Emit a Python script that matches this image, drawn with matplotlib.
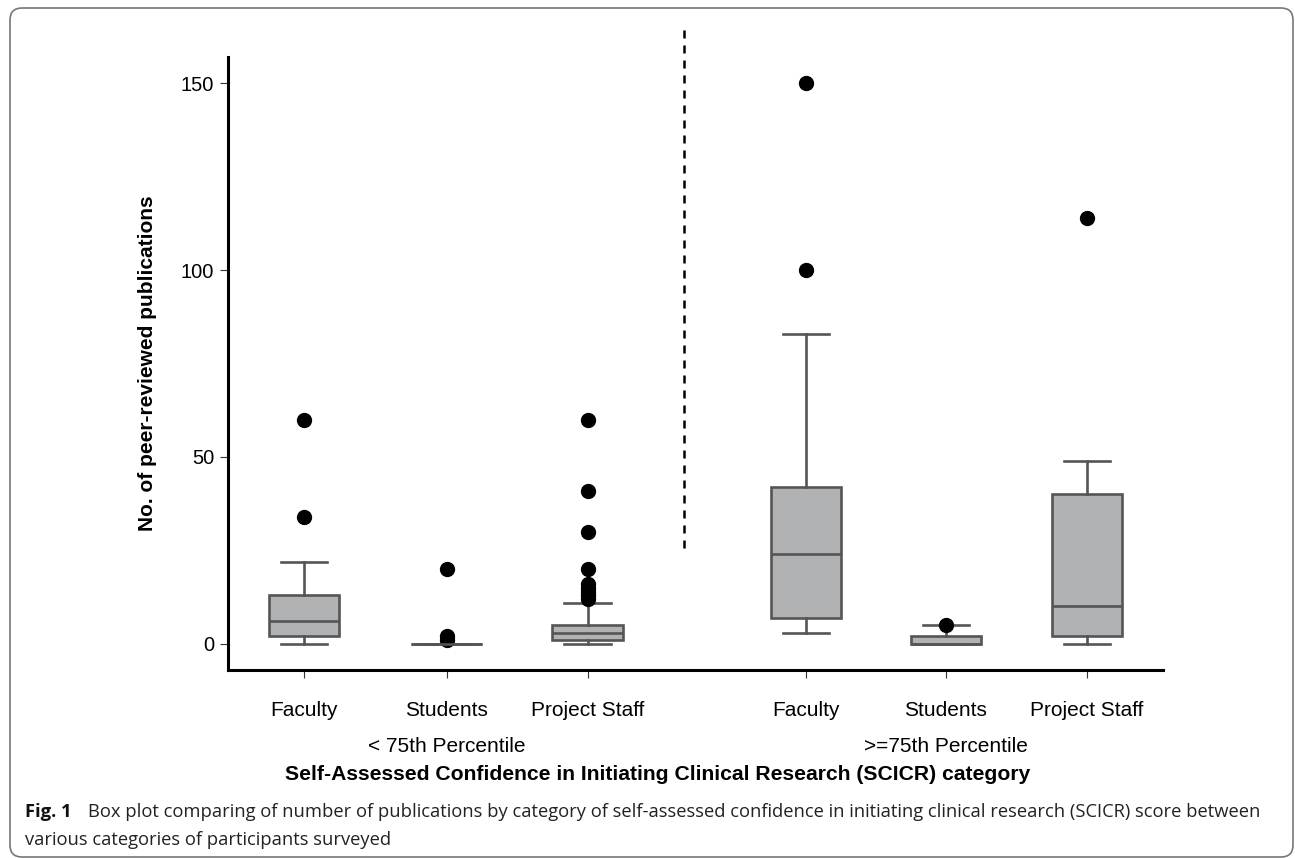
import matplotlib
matplotlib.use("Agg")
import matplotlib.pyplot as plt
from matplotlib.patches import FancyBboxPatch
from matplotlib.transforms import blended_transform_factory

# categories and box statistics
groups = ["Faculty", "Students", "Project Staff", "Faculty", "Students", "Project Staff"]
positions = [1, 2.01, 3.01, 4.56, 5.55, 6.55]
whis_lo = [0, 0, 0, 3, 0, 0]
q1 = [2, 0, 1, 7, 0, 2]
median = [6, 0, 3, 24, 0, 10]
q3 = [13, 0, 5, 42, 2, 40]
whis_hi = [22, 0, 11, 83, 5, 49]
fliers = [
    [34, 60],
    [1, 2, 20],
    [12, 13, 14, 15, 16, 20, 30, 41, 60],
    [100, 150],
    [5],
    [114],
]
percentile_labels = ["< 75th Percentile", ">=75th Percentile"]
yticks = [0, 50, 100, 150]

W, H = 1295, 858
fig = plt.figure(figsize=(W / 100, H / 100), dpi=100)
ax = fig.add_axes([228 / W, 1 - 670 / H, (1163 - 228) / W, (670 - 57) / H])

FONT = ["Liberation Sans", "DejaVu Sans"]
CAP = ["Open Sans", "DejaVu Sans"]
EDGE = "#555555"

stats = [dict(whislo=a, q1=b, med=c, q3=d, whishi=e, fliers=f)
         for a, b, c, d, e, f in zip(whis_lo, q1, median, q3, whis_hi, fliers)]
ax.bxp(stats, positions=positions, widths=0.5, capwidths=0.33, patch_artist=True,
       boxprops=dict(facecolor="#b1b2b4", edgecolor=EDGE, linewidth=1.9),
       medianprops=dict(color=EDGE, linewidth=1.9),
       whiskerprops=dict(color=EDGE, linewidth=1.9),
       capprops=dict(color=EDGE, linewidth=1.9),
       flierprops=dict(marker="o", markerfacecolor="black", markeredgecolor="black",
                       markersize=10))

ax.set_xlim(0.46, 7.09)
ax.set_ylim(-7, 157)
ax.set_xticks(positions)
ax.set_xticklabels(groups, fontsize=15, family=FONT)
ax.set_yticks(yticks)
ax.set_yticklabels([str(t) for t in yticks], fontsize=14.5, family=FONT)
ax.tick_params(axis="both", direction="out", length=6, width=0.8, color="#333333")
ax.tick_params(axis="x", pad=16)
ax.tick_params(axis="y", pad=4)
for s in ("top", "right"):
    ax.spines[s].set_visible(False)
for s in ("left", "bottom"):
    ax.spines[s].set_linewidth(2.2)
    ax.spines[s].set_color("black")

ax.set_ylabel("No. of peer-reviewed publications", fontsize=15, fontweight="bold",
              family=FONT, labelpad=17)

# dashed separator between the two SCICR groups
ax.plot([3.69, 3.69], [25.7, 165.5], color="black", linewidth=1.8,
        dashes=(3.2, 2.8), clip_on=False)

tr = blended_transform_factory(ax.transData, fig.transFigure)
for x, lbl in zip([positions[1], positions[4]], percentile_labels):
    ax.text(x, 1 - 747 / H, lbl, transform=tr, ha="center", va="center",
            fontsize=15, family=FONT)

fig.text(658 / W, 1 - 775 / H,
         "Self-Assessed Confidence in Initiating Clinical Research (SCICR) category",
         ha="center", va="center", fontsize=15.2, fontweight="bold", family=FONT)

# figure caption
fig.text(25 / W, 1 - 812 / H, "Fig. 1", fontsize=13.2, family=CAP, va="center",
         ha="left", fontweight="bold", color="#111111")
fig.text(88 / W, 1 - 812 / H,
         "Box plot comparing of number of publications by category of self-assessed confidence "
         "in initiating clinical research (SCICR) score between",
         fontsize=13.2, family=CAP, va="center", ha="left", color="#222222")
fig.text(25 / W, 1 - 840 / H, "various categories of participants surveyed",
         fontsize=13.2, family=CAP, va="center", ha="left", color="#222222")

# rounded frame around the figure panel
frame = FancyBboxPatch((10, 1), 1283, H - 9, boxstyle="round,pad=0,rounding_size=12",
                       transform=None, fill=False, edgecolor="#777777", linewidth=1.2)
fig.patches.append(frame)

fig.savefig("out.png", dpi=100, facecolor="white")
